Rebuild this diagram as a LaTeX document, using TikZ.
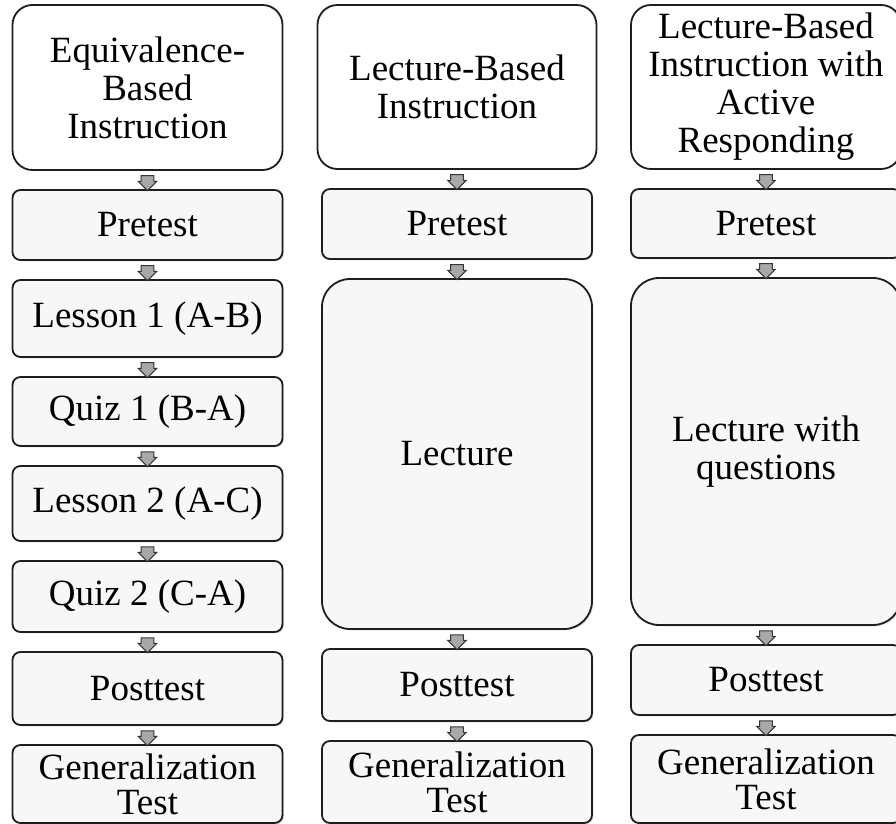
\documentclass[tikz,border=0pt]{standalone}
\usepackage{fontspec}
\setmainfont{Liberation Serif}
\usetikzlibrary{positioning,shapes.arrows,shadows}

\definecolor{stagefill}{HTML}{F7F7F7}
\definecolor{arrowfill}{HTML}{A8A8A8}
\definecolor{edgecol}{HTML}{1E1E1E}

\begin{document}
\begin{tikzpicture}[
font=\fontsize{18.5}{19}\selectfont,
node distance=10pt,
header/.style={rectangle, rounded corners=10pt, draw=edgecol, line width=0.9pt, fill=white, align=center, inner sep=2pt, outer sep=0pt, minimum width=135pt},
stage/.style={rectangle, rounded corners=4pt, draw=edgecol, line width=0.9pt, fill=stagefill, align=center, inner sep=1pt, outer sep=0pt, minimum width=135pt, drop shadow={shadow xshift=0.7pt, shadow yshift=-0.7pt, opacity=0.25}},
gentest/.style={stage, font=\fontsize{18.5}{17.5}\selectfont, inner ysep=0pt},
flow/.style={single arrow, shape border rotate=270, draw=edgecol!90, fill=arrowfill, line width=0.5pt, inner xsep=2.9pt, inner ysep=0.8pt, minimum width=8.6pt, minimum height=7.4pt, single arrow head extend=1.4pt}
]
\useasboundingbox (0,0) rectangle (448pt,-412pt);

% equivalence-based column
\node[header, minimum height=82.5pt, anchor=north](ebi_head) at (73.75pt,-2.5pt) {Equivalence-\\Based\\Instruction};
\node[stage, minimum height=35pt](ebi_pre)[below=of ebi_head]{Pretest};
\node[stage, minimum height=38.5pt](ebi_les1)[below=of ebi_pre]{Lesson 1 (A-B)};
\node[stage, minimum height=34.5pt](ebi_quiz1)[below=of ebi_les1]{Quiz 1 (B-A)};
\node[stage, minimum height=37.5pt](ebi_les2)[below=of ebi_quiz1]{Lesson 2 (A-C)};
\node[stage, minimum height=35.5pt](ebi_quiz2)[below=of ebi_les2]{Quiz 2 (C-A)};
\node[stage, minimum height=36.5pt](ebi_post)[below=of ebi_quiz2]{Posttest};
\node[gentest, minimum height=39pt](ebi_gen)[below=of ebi_post]{Generalization\\Test};

% lecture-based column
\node[header, minimum width=139.5pt, minimum height=82pt, anchor=north](lbi_head) at (228.5pt,-2.5pt) {Lecture-Based\\Instruction};
\node[stage, minimum height=35pt](lbi_pre)[below=of lbi_head]{Pretest};
\node[stage, rounded corners=14pt, minimum height=175pt](lbi_lec)[below=of lbi_pre]{Lecture};
\node[stage, minimum height=36pt](lbi_post)[below=of lbi_lec]{Posttest};
\node[gentest, minimum height=41pt](lbi_gen)[below=of lbi_post]{Generalization\\Test};

% active responding column
\node[header, minimum height=82pt, anchor=north](lar_head) at (383pt,-2.5pt) {Lecture-Based\\Instruction with\\Active\\Responding};
\node[stage, minimum height=34.5pt](lar_pre)[below=of lar_head]{Pretest};
\node[stage, rounded corners=14pt, minimum height=173.5pt](lar_lec)[below=of lar_pre]{Lecture with\\questions};
\node[stage, minimum height=35pt](lar_post)[below=of lar_lec]{Posttest};
\node[gentest, minimum height=44pt](lar_gen)[below=of lar_post]{Generalization\\Test};

% block arrows between steps
\path (ebi_head) -- node[flow]{} (ebi_pre);
\path (ebi_pre) -- node[flow]{} (ebi_les1);
\path (ebi_les1) -- node[flow]{} (ebi_quiz1);
\path (ebi_quiz1) -- node[flow]{} (ebi_les2);
\path (ebi_les2) -- node[flow]{} (ebi_quiz2);
\path (ebi_quiz2) -- node[flow]{} (ebi_post);
\path (ebi_post) -- node[flow]{} (ebi_gen);

\path (lbi_head) -- node[flow]{} (lbi_pre);
\path (lbi_pre) -- node[flow]{} (lbi_lec);
\path (lbi_lec) -- node[flow]{} (lbi_post);
\path (lbi_post) -- node[flow]{} (lbi_gen);

\path (lar_head) -- node[flow]{} (lar_pre);
\path (lar_pre) -- node[flow]{} (lar_lec);
\path (lar_lec) -- node[flow]{} (lar_post);
\path (lar_post) -- node[flow]{} (lar_gen);
\end{tikzpicture}
\end{document}
